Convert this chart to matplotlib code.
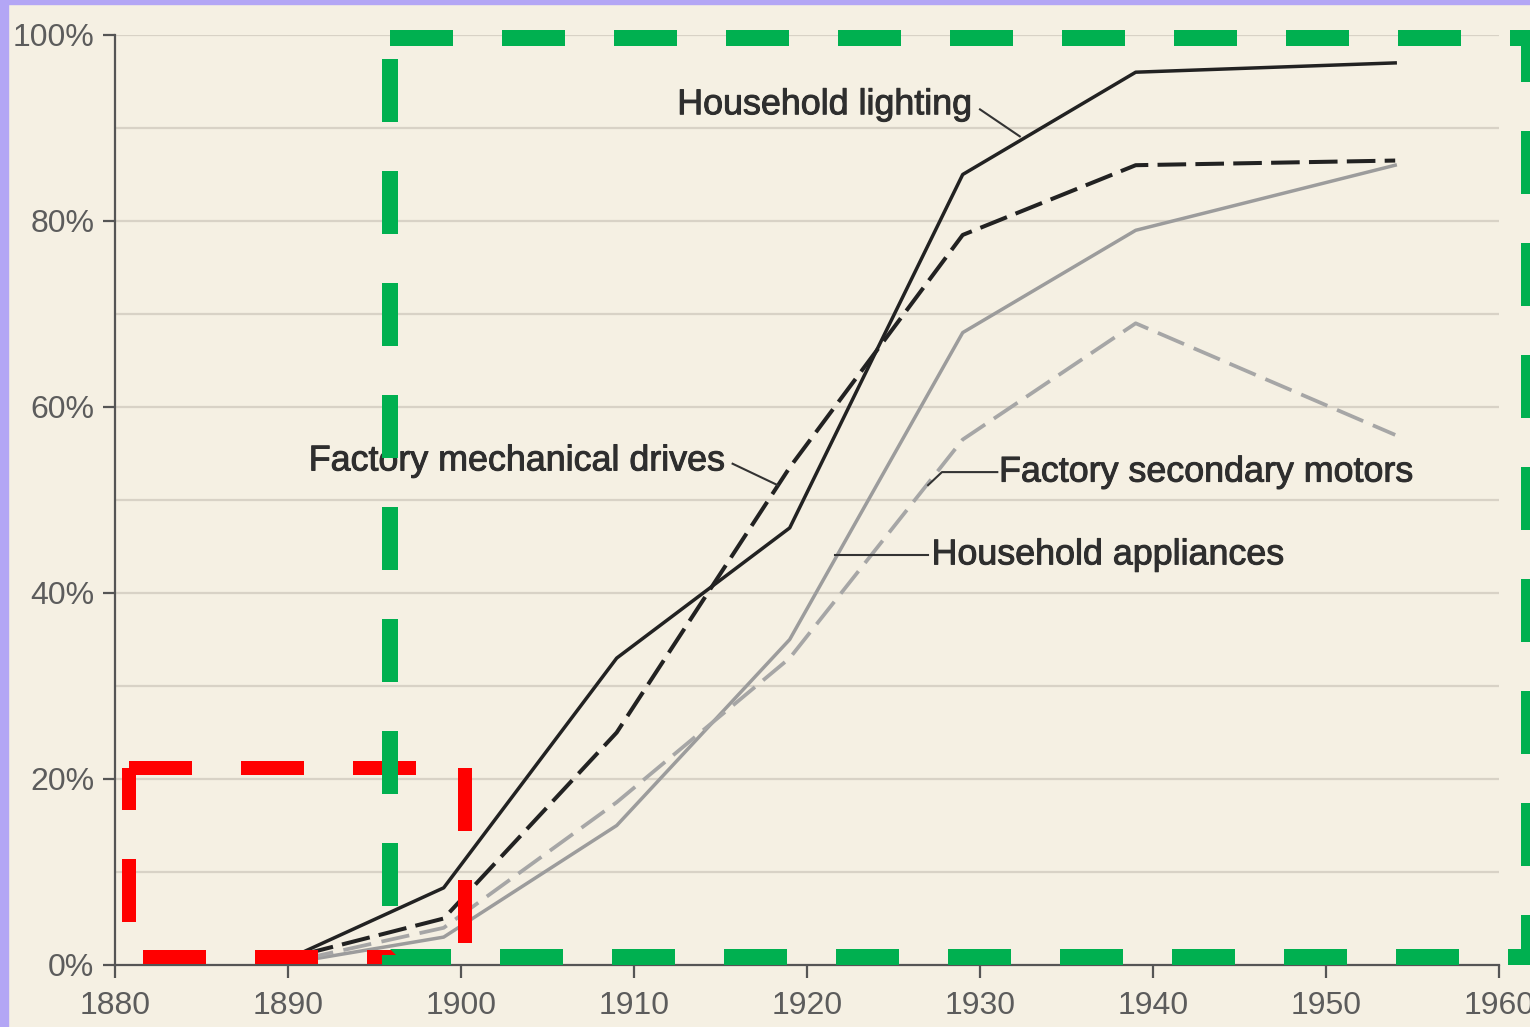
import matplotlib
matplotlib.use("Agg")
import matplotlib.pyplot as plt
import matplotlib.patheffects as pe
from matplotlib.patches import Rectangle
from matplotlib.ticker import FuncFormatter

years = [1891, 1899, 1909, 1919, 1929, 1939, 1954]
household_lighting = [1.5, 8.3, 33, 47, 85, 96, 97]
factory_mech_drives = [1.2, 5, 25, 53.5, 78.5, 86, 86.5]
household_appliances = [0.5, 3, 15, 35, 68, 79, 86]
factory_secondary = [0.7, 4, 17.5, 33, 56.5, 69, 57]

x_ticks = [1880, 1890, 1900, 1910, 1920, 1930, 1940, 1950, 1960]
y_ticks = [0, 20, 40, 60, 80, 100]

plt.rcParams['font.family'] = ['Liberation Sans', 'DejaVu Sans']
BG = '#f5f0e3'
W, H = 1530, 1027
fig = plt.figure(figsize=(W/100, H/100), dpi=100, facecolor=BG)
ax = fig.add_axes([115/W, 1-965/H, (1499-115)/W, (965-35)/H])
ax.set_facecolor(BG)

ax.set_xlim(1880, 1960)
ax.set_ylim(0, 100)
for g in range(10, 101, 10):
    ax.axhline(g, color='#d8d2c6', lw=1.6, zorder=1)

ax.plot(years, household_lighting, color='#222222', lw=2.5, zorder=5)
ax.plot(years, factory_mech_drives, color='#222222', lw=2.9, dashes=(7.1, 2.3), zorder=5)
ax.plot(years, household_appliances, color='#9c9c9c', lw=2.5, zorder=4)
ax.plot(years, factory_secondary, color='#a6a6a6', lw=2.7, dashes=(7.6, 2.8), zorder=4)

for s in ['top', 'right']:
    ax.spines[s].set_visible(False)
for s in ['left', 'bottom']:
    ax.spines[s].set_color('#555555')
    ax.spines[s].set_linewidth(1.6)
ax.set_xticks(x_ticks)
ax.set_yticks(y_ticks)
ax.yaxis.set_major_formatter(FuncFormatter(lambda v, p: f"{int(v)}%"))
ax.tick_params(axis='both', direction='out', length=9, width=1.6, color='#555555',
               labelcolor='#5c5c5c', labelsize=23)
ax.tick_params(axis='y', pad=6)
ax.tick_params(axis='x', pad=10)

tc = '#2e2e2e'
fs = 25.8
eff = [pe.withStroke(linewidth=0.7, foreground=tc)]
def label(x, y, s):
    ax.text(x, y, s, fontsize=fs, color=tc, ha='left', va='center', zorder=6, path_effects=eff)
def leader(xs, ys):
    ax.plot(xs, ys, color='#333333', lw=1.5, zorder=6)

label(1912.5, 92.5, "Household lighting")
leader([1930.0, 1932.3], [92.0, 89.1])
label(1891.2, 54.2, "Factory mechanical drives")
leader([1915.7, 1918.3], [53.9, 51.6])
label(1931.1, 53.0, "Factory secondary motors")
leader([1931.0, 1927.8, 1927.0], [53.0, 53.0, 51.6])
label(1927.2, 44.1, "Household appliances")
leader([1927.0, 1921.6], [44.1, 44.1])

# overlay dashed rectangles, drawn clockwise from the top-left corner
def dashed_box(x0, x1, y0, y1, color, lw_px, z):
    lw = lw_px * 0.72
    dash = 63 * 0.72 / lw
    gap = 49 * 0.72 / lw
    ax.plot([x0, x1, x1, x0, x0], [y1, y1, y0, y0, y1], color=color, lw=lw,
            dashes=(dash, gap), dash_joinstyle='miter', dash_capstyle='butt',
            clip_on=False, zorder=z)

dashed_box(1880.81, 1900.23, 0.86, 21.18, '#ff0000', 14, 8)
dashed_box(1895.9, 1961.76, 0.86, 99.68, '#00b050', 16, 9)

# purple frame strips
fig.patches.append(Rectangle((0, 0), 8/W, 1, transform=fig.transFigure, color='#b3a6f5', zorder=10))
fig.patches.append(Rectangle((0, 1-4/H), 1, 4/H, transform=fig.transFigure, color='#b3a6f5', zorder=10))

fig.savefig('out.png', dpi=100, facecolor=BG)
